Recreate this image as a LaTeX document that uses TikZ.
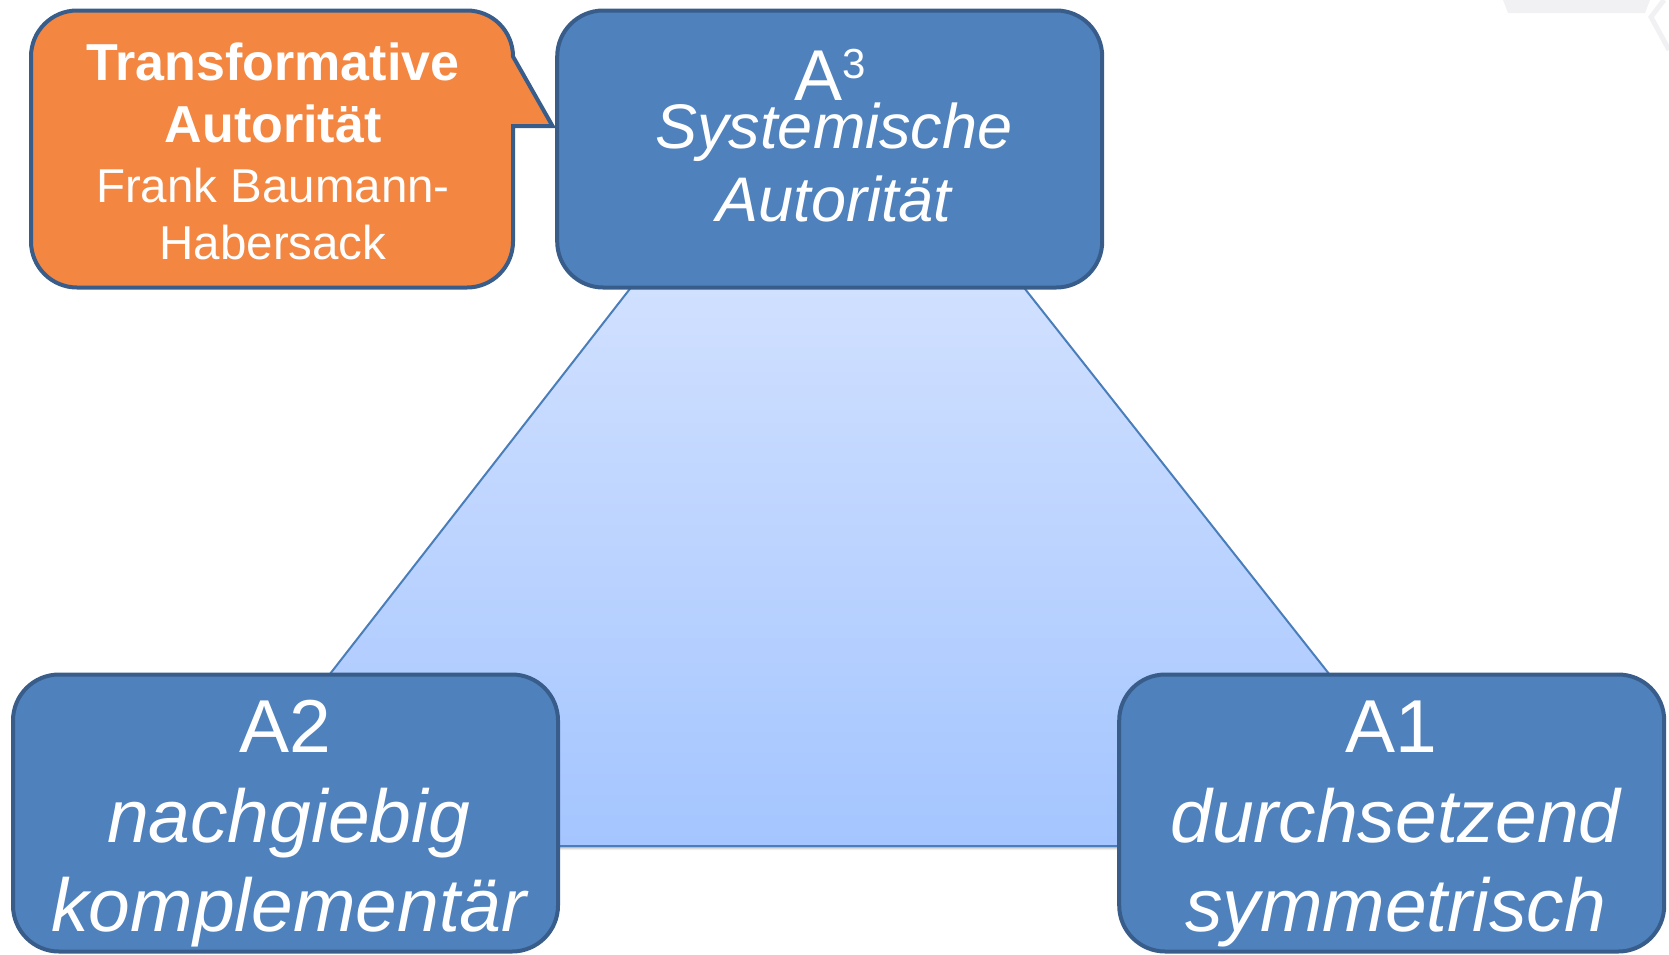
\documentclass[tikz,border=0pt]{standalone}
\usepackage{fontspec}
\setmainfont{Liberation Sans}
\definecolor{boxfill}{RGB}{79,129,189}
\definecolor{boxline}{RGB}{56,93,138}
\definecolor{calloutfill}{RGB}{243,134,65}
\definecolor{triline}{RGB}{74,126,187}
\definecolor{tritop}{RGB}{228,236,255}
\definecolor{tribot}{RGB}{164,197,255}
\definecolor{faint}{RGB}{241,241,243}
\begin{document}
\begin{tikzpicture}[x=1pt,y=-1pt,
  box/.style={draw=boxline, line width=4pt, fill=boxfill, rounded corners=46pt,
    minimum width=545pt, minimum height=277pt, inner sep=0pt},
  lbl/.style={text=white, anchor=base, inner sep=0pt, outer sep=0pt},
  big/.style={lbl, font=\fontsize{75}{90}\selectfont},
  bigit/.style={lbl, font=\fontsize{75}{90}\selectfont\itshape},
  midit/.style={lbl, font=\fontsize{63}{75}\selectfont\itshape},
  cbold/.style={lbl, font=\fontsize{52}{62}\selectfont\bfseries},
  cplain/.style={lbl, font=\fontsize{47.5}{57}\selectfont},
  callout/.style={draw=boxline, line width=4pt, fill=calloutfill, line join=miter},
  tri/.style={draw=triline, line width=2pt, top color=tritop, bottom color=tribot},
]
\useasboundingbox (0,0) rectangle (1669,954);

% faint mark in the upper right corner
\fill[faint] (1503,0) -- (1650,0) -- (1645,13) -- (1508,13) -- cycle;
\draw[faint, line width=5pt] (1664,0) -- (1651,17) -- (1669,50);

% triangle with a soft shadow underneath
\foreach \d/\o in {4/0.06, 3/0.08, 2/0.10}
  \fill[black, opacity=\o] (826,37+\d) -- (196,846+\d) -- (1465,846+\d) -- cycle;
\coordinate (apex) at (826,37);
\coordinate (bl) at (196,846);
\coordinate (br) at (1465,846);
\draw[tri] (apex) -- (bl) -- (br) -- cycle;

% the three corner boxes
\node[box] (a3) at (829.7,149) {};
\node[box] (a2) at (285.5,813) {};
\node[box] (a1) at (1391.7,813) {};

% speech bubble pointing to the top box
\draw[callout] (77,10.5) -- (467,10.5)
  arc[start angle=-90, end angle=0, radius=46] -- (552.5,126) -- (513,126)
  -- (513,241.5) arc[start angle=0, end angle=90, radius=46]
  -- (77,287.5) arc[start angle=90, end angle=180, radius=46]
  -- (31,56.5) arc[start angle=180, end angle=270, radius=46] -- cycle;

% texts
\node[cbold] (t1) at (273,80) {Transformative};
\node[cbold] (t2) at (273,142.7) {Autorität};
\node[cplain] (t3) at (273,202.7) {Frank Baumann-};
\node[cplain] (t4) at (273,259.3) {Habersack};

\node[lbl, font=\fontsize{72}{86}\selectfont] (a3t) at (830,100)
  {A\raisebox{22pt}{\fontsize{42}{46}\selectfont 3}};
\node[midit] (a3s) at (834,148.5) {Systemische};
\node[midit] (a3a) at (834,221.7) {Autorität};

\node[big] (a2t) at (285.5,752.7) {A2};
\node[bigit] (a2n) at (288.5,842.7) {nachgiebig};
\node[bigit] (a2k) at (289,931.7) {komplementär};

\node[big] (a1t) at (1391.7,752.7) {A1};
\node[bigit] (a1d) at (1395.5,842.7) {durchsetzend};
\node[bigit] (a1s) at (1395.5,931.7) {symmetrisch};
\end{tikzpicture}
\end{document}
